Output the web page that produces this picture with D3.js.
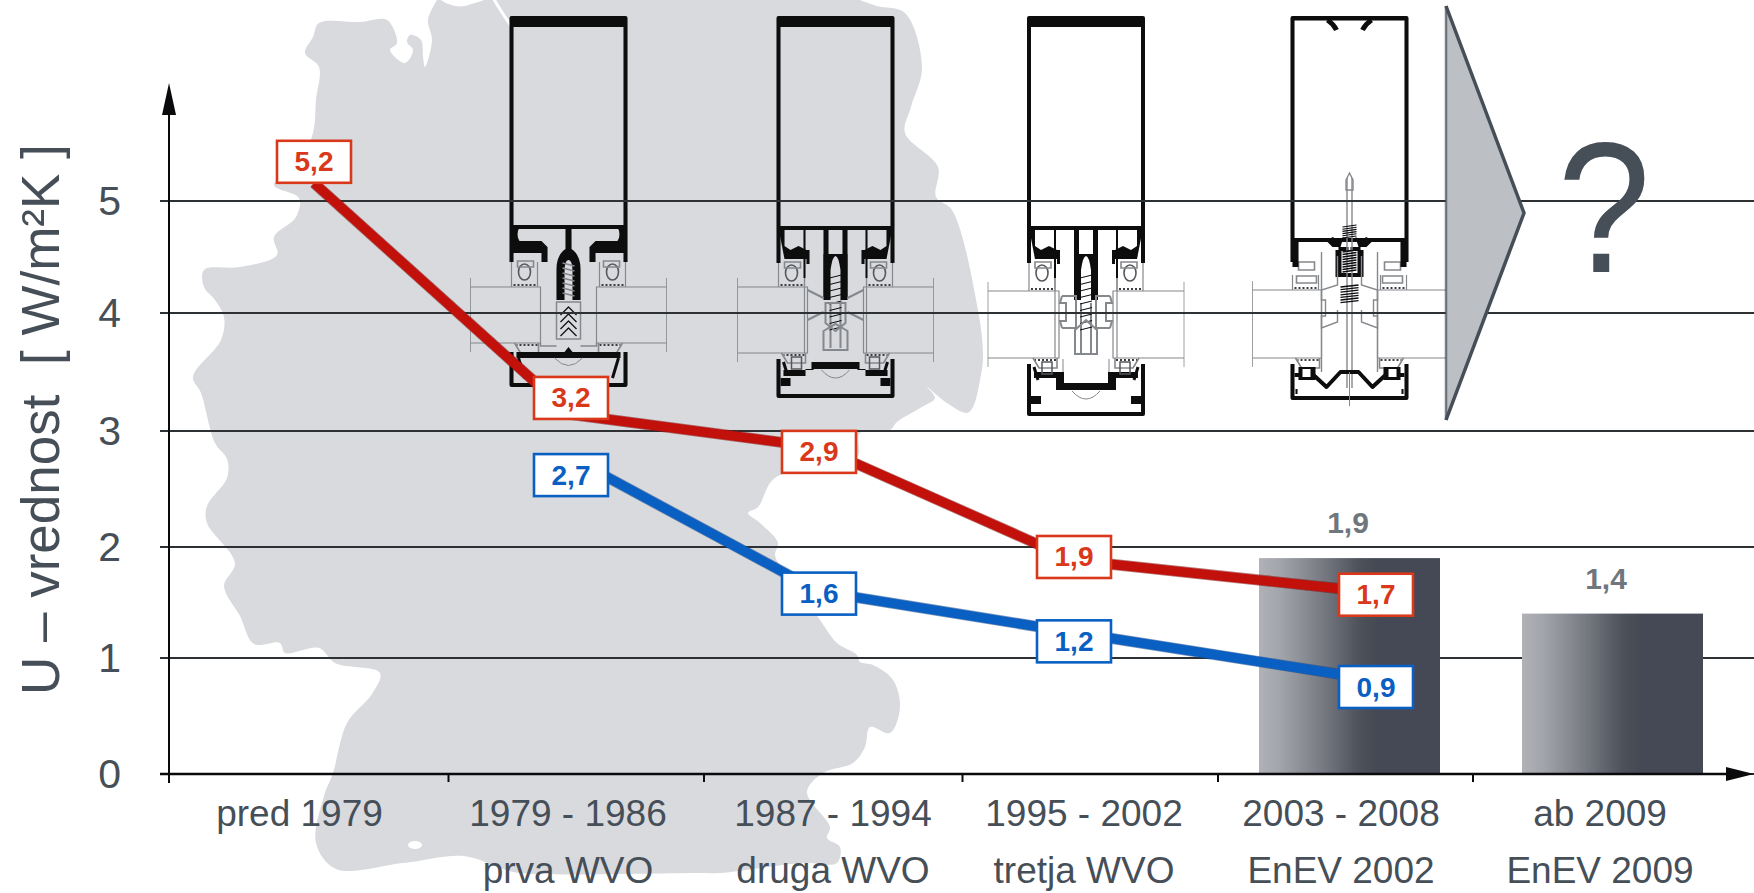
<!DOCTYPE html>
<html><head><meta charset="utf-8">
<script src="https://cdn.jsdelivr.net/npm/d3@7/dist/d3.min.js"></script>
<style>html,body{margin:0;padding:0;background:#fff}svg{display:block}text{font-family:"Liberation Sans",Arial,sans-serif}</style>
</head><body><svg id="c" width="1754" height="893"></svg>
<script>
// ---- data ----
const categories = ["pred 1979","1979 - 1986","1987 - 1994","1995 - 2002","2003 - 2008","ab 2009"];
const subLabels  = ["","prva WVO","druga WVO","tretja WVO","EnEV 2002","EnEV 2009"];
const yTicks = [0,1,2,3,4,5];
const redLabels  = [5.2,3.2,2.9,1.9,1.7];
const redLine    = [5.16,3.14,2.86,1.88,1.59];   // level of the drawn line on the y axis
const redBoxes   = [5.35,3.28,2.82,1.91,1.57];   // level of the drawn label box on the y axis
const blueLabels = [2.7,1.6,1.2,0.9];
const blueLine   = [2.77,1.60,1.23,0.81];
const blueBoxes  = [2.62,1.58,1.15,0.75];
const barCats    = ["2003 - 2008","ab 2009"];
const barValues  = [1.9,1.4];

// ---- scales ----
const svg = d3.select("#c");
const y = d3.scaleLinear().domain(yTicks).range([774,658,547,431,313,201]);
const xLabel = d3.scaleOrdinal().domain(categories).range([299.5,568,833,1084,1341,1600]);
const xBar   = d3.scaleOrdinal().domain(barCats).range([1259,1522]);
const xBarText = d3.scaleOrdinal().domain(barCats).range([1348,1606]);
const xPoint = d3.scaleOrdinal().domain(categories).range([314,571,819,1074,1376,1600]);
const xTick  = d3.scaleOrdinal().domain(categories.slice(1)).range([448.5,704,962.5,1218,1473]);
const barW = 181;
const ink = "#464f58", red = "#c2100a", redB = "#d9391a", blue = "#0a60c2";
const fmt = v => d3.format(".1f")(v).replace(".", ",");

// ---- defs ----
const defs = svg.append("defs");
const grad = defs.append("linearGradient").attr("id","barG");
[[0,"#b0b2b8"],[.12,"#a2a4ab"],[.35,"#777a82"],[.55,"#4e525b"],[.65,"#454a54"],[1,"#454a54"]]
  .forEach(s=>grad.append("stop").attr("offset",s[0]).attr("stop-color",s[1]));
defs.append("filter").attr("id","soft").append("feGaussianBlur").attr("stdDeviation",0.6);

// ---- background map ----
const mapPts = [[437,0],[428,20],[432,40],[425,67],[423,57],[421,40],[410,35],[407,42],[413,50],[405,63],[390,50],[397,43],[387,20],[360,22],[319,23],[313,37],[305,53],[319,67],[316,100],[313,133],[300,160],[274,185],[299,198],[296,217],[274,237],[277,255],[240,267],[204,270],[204,287],[215,300],[224,317],[221,340],[193,377],[201,393],[215,443],[227,459],[227,478],[207,506],[207,523],[235,563],[224,586],[240,616],[254,644],[280,643],[285,653],[319,648],[335,663],[380,673],[372,694],[347,723],[333,773],[324,796],[316,843],[336,869],[403,863],[464,856],[503,869],[520,873],[699,873],[720,873],[803,863],[837,863],[840,847],[827,838],[830,827],[807,792],[823,773],[853,763],[865,747],[870,727],[890,733],[900,707],[893,680],[873,665],[860,662],[857,655],[837,643],[820,620],[800,590],[783,570],[775,555],[778,543],[760,523],[748,513],[758,507],[770,483],[780,475],[857,458],[860,433],[890,430],[897,422],[920,408],[935,398],[927,387],[947,403],[967,413],[973,407],[980,380],[983,357],[978,310],[952,210],[936,197],[938,167],[905,133],[911,107],[922,67],[905,13],[877,6],[860,0]];
svg.append("path").attr("d", d3.line().curve(d3.curveCatmullRom.alpha(.5))(mapPts)+"Z").attr("fill","#d8dade").attr("filter","url(#soft)");
svg.append("path").attr("d","M437,-4 L447,2 Q460,8 473,2 L492,-4 Q500,10 511,26").attr("fill","none").attr("stroke","#fff").attr("stroke-width",3);
svg.append("path").attr("d","M437,-3 L447,2 Q460,8 473,2 L490,-3Z").attr("fill","#fff");
svg.append("ellipse").attr("cx",415).attr("cy",845).attr("rx",7).attr("ry",4).attr("fill","#fff");

// ---- window-frame section drawings (decorative pictograms) ----
function mullion(o){
  const g = svg.append("g").attr("transform",`translate(${o.cx},0)`).attr("filter","url(#soft)");
  const B = o.bar, W = o.w;
  const blk = (d,sw=4)=>g.append("path").attr("d",d).attr("fill","none").attr("stroke","#0a0a0c").attr("stroke-width",sw).attr("stroke-linejoin","round");
  const fil = d=>g.append("path").attr("d",d).attr("fill","#0a0a0c");
  const thin= (d,sw=1.2)=>g.append("path").attr("d",d).attr("fill","none").attr("stroke","#85888c").attr("stroke-width",sw);
  const teeth = d=>g.append("path").attr("d",d).attr("fill","none").attr("stroke","#3c3e42").attr("stroke-width",2).attr("stroke-dasharray","2 2");
  // hollow box
  blk(`M${-W},${o.wallEnd||B+35}V18H${W}V${o.wallEnd||B+35}`);
  blk(`M${-W},${B}H${W}`,4);
  if(o.topBand) fil(`M${-W},17H${W}V27H${-W}Z`);
  else { blk(`M${-W},19H${W}`,3); blk(`M-22,20Q-16,24 -13,30M22,20Q16,24 13,30`,5); }
  // glass panes
  thin(`M${-o.gO},${o.gT}H${-o.gI}V${o.gB}H${-o.gO}M${o.gO},${o.gT}H${o.gI}V${o.gB}H${o.gO}`);
  thin(`M${-o.gO},${o.gT-9}V${o.gB+9}M${o.gO},${o.gT-9}V${o.gB+9}`,.8);
  // inner gaskets with oval holes
  [-1,1].forEach(s=>{
    thin(`M${s*W},${B+35}V${o.gT}M${s*(W-26)},${B+35}V${o.gT}`);
    if(o.type!==4){
      g.append("ellipse").attr("cx",s*(W-13)).attr("cy",B+45).attr("rx",6).attr("ry",8).attr("fill","none").attr("stroke","#55585c").attr("stroke-width",1.6);
      thin(`M${s*(W-22)},${B+34}h${s*16}v6h${-s*16}z`,1.6);
    } else {
      thin(`M${s*(W-22)},${B+22}h${s*16}v8h${-s*16}z`,1.6);
      thin(`M${s*(W-24)},${B+36}h${s*20}v7h${-s*20}z`,1.6);
    }
    teeth(`M${s*(W-24)},${o.gT-2}H${s*(W-2)}`);
    teeth(`M${s*(o.gI+3)},${o.gB+2}H${s*(o.gI+24)}`);
    thin(`M${s*(o.gI+26)},${o.gB}L${s*(o.gI+20)},${o.gB+10}H${s*(o.gI+2)}V${o.gB}`,1.6);
  });
  if(o.type===1){
    fil(`M${-W},${B}h8q-4,8 0,14h22l6,6v15h-6v-9h-30z`);
    fil(`M${W},${B}h-8q4,8 0,14h-22l-6,6v15h6v-9h30z`);
    fil(`M-3,${B}H3V${B+22}Q12,${B+28} 12,${B+42}V${B+73}H4V${B+45}Q4,${B+33} 0,${B+33}Q-4,${B+33} -4,${B+45}V${B+73}H-12V${B+42}Q-12,${B+28} -3,${B+22}Z`);
    thin(`M-12,${B+75}H12V${B+112}H-12Z`,1.5);
    for(let k=0;k<7;k++) thin(`M-6,${B+36+k*5}L6,${B+39+k*5}`,1.6);
    for(let k=0;k<4;k++) blk(`M-8,${B+88+k*7}L0,${B+80+k*7}L8,${B+88+k*7}`,1.2);
    thin(`M-28,${o.gB}V${o.gB+3}H-12M28,${o.gB}V${o.gB+3}H12`,1.5);
    fil(`M-52,${o.gB+9}H-4L0,${o.gB+4}L4,${o.gB+9}H52V${o.gB+15}H-52Z`);
    blk(`M${-W},${o.gB+9}V${o.cap}H${W}V${o.gB+9}`);
    blk(`M-50,${o.gB+15}L-44,${o.gB+35}M50,${o.gB+15}L44,${o.gB+35}`,3);
    thin(`M-14,${o.gB+15}Q0,${o.gB+30} 14,${o.gB+15}`,1);
  }
  if(o.type===2||o.type===3){
    [-1,1].forEach(s=>{
      fil(`M${s*W},${B}h${-s*6}v${18}l${-s*6},4l${-s*8},-4l${-s*8},4h${-s*3}v14h${s*3}v-5h${s*22}z`);
      blk(`M${s*31},${B}V${B+50}`,2);
      thin(`M${s*31},${B+50}V${o.gB}`);
    });
    blk(`M-9.5,${B}V${B+70}M9.5,${B}V${B+70}`,5);
    fil(`M-12,${B+26}H12V${B+72}H5V${B+42}Q3,${B+28} 0,${B+28}Q-3,${B+28} -5,${B+42}V${B+72}H-12Z`);
    thin(`M-5,${B+75}V${o.gB-5}M5,${B+75}V${o.gB-5}`,2);
    for(let k=0;k<9;k++) blk(`M-6,${B+50+k*6.5}L6,${B+47+k*6.5}`,1);
    if(o.type===2){
      thin(`M-28,${B+62}L-12,${B+70}M28,${B+62}L12,${B+70}M-28,${B+92}L-12,${B+84}M28,${B+92}L12,${B+84}`,2);
      thin(`M-10,${B+75}H10V${B+95}L0,${B+103}L-10,${B+95}Z`,2);
      thin(`M-12,${B+103}L0,${B+96}L12,${B+103}V${B+122}H-12Z`,2);
    } else {
      thin(`M-24,${B+68}H-10V${B+100}H-24M24,${B+68}H10V${B+100}H24M-24,${B+68}L-26,${B+75}H-20V${B+93}H-26L-24,${B+100}M24,${B+68}L26,${B+75}H20V${B+93}H26L24,${B+100}`,2);
      thin(`M-11,${B+102}L0,${B+92}L11,${B+102}V${B+126}H-11Z`,2);
      thin(`M-23,${B+131}V${o.plate}M23,${B+131}V${o.plate}`,1);
    }
    fil(`M-24,${o.plate}H24V${o.plate+7}H-24Z`);
    [-1,1].forEach(s=>{
      const sy = o.plate+o.side;
      fil(`M${s*22},${o.plate}V${sy}H${s*52}V${sy+6}H${s*30}V${o.plate+7}H${s*22}Z`);
      g.append("rect").attr("x",s>0?34:-44).attr("y",o.gB+4).attr("width",10).attr("height",12).attr("fill","none").attr("stroke","#55585c").attr("stroke-width",1.5);
      blk(`M${s*52},${o.gB+9}L${s*48},${o.gB+22}`,3);
      fil(`M${s*(W-2)},${o.cap-18}h${-s*10}v8h${s*10}z`);
    });
    blk(`M${-W},${o.gB+6}V${o.cap}H${W}V${o.gB+6}`);
    thin(`M-14,${o.plate+8}Q0,${o.plate+24} 14,${o.plate+8}`,1);
  }
  if(o.type===4){
    fil(`M${-W},${B}h36l4,-3l6,3l5,-3l-3,10h8v5h-10v-5h-6l-6,-6h-28v26h-6z`);
    fil(`M${W},${B}h-36l-4,-3l-6,3l-5,-3l3,10h-8v5h10v-5h6l6,-6h28v26h6z`);
    fil(`M-14,${B+10}H14V${B+37}H-14Z`);
    g.append("rect").attr("x",-8).attr("y",B+11).attr("width",16).attr("height",22).attr("fill","#fff");
    thin(`M-2.5,${B-62}V${o.gB+30}M2.5,${B-62}V${o.gB+30}`,1.4);
    thin(`M-3.5,${B-60}L0,${B-67}L3.5,${B-60}V${B-50}H-3.5Z`,1.4);
    for(let k=0;k<9;k++) blk(`M-7,${B+12+k*2.5}L7,${B+10+k*2.5}`,1.3);
    for(let k=0;k<6;k++) blk(`M-7,${B-13+k*2.2}L7,${B-15+k*2.2}`,1.1);
    for(let k=0;k<7;k++) blk(`M-9,${B+47+k*2.6}L9,${B+45+k*2.6}`,1.3);
    thin(`M-28,${B+12}V${o.gB+14}M28,${B+12}V${o.gB+14}`,1.4);
    thin(`M-12,${B+16}V${B+45}L-28,${B+50}V${B+60}H-24V${B+76}H-28V${B+88}L-12,${B+82}V${B+70}M12,${B+16}V${B+45}L28,${B+50}V${B+60}H24V${B+76}H28V${B+88}L12,${B+82}V${B+70}`,1.4);
    blk(`M-55,${o.gB+17}H-36L-23,${o.gB+29}L-9,${o.gB+14}H9L23,${o.gB+29}L36,${o.gB+17}H55`,4);
    [-1,1].forEach(s=>{ fil(`M${s*51},${o.gB+9}h${-s*17}v13h${s*17}z`);
      g.append("rect").attr("x",s>0?39:-47).attr("y",o.gB+11).attr("width",8).attr("height",8).attr("fill","#fff"); });
    blk(`M${-W},${o.gB+6}V${o.cap}H${W}V${o.gB+6}`);
    blk(`M${-W+4},${o.cap-9}V${o.cap-4}M${W-4},${o.cap-9}V${o.cap-4}`,2);
    thin(`M0,${o.gB+14}V${o.cap+8}`,1);
  }
}
mullion({cx:568.5,w:57,bar:227,type:1,topBand:true,gT:287,gB:343,gO:98,gI:28,cap:385});
mullion({cx:835.5,w:57,bar:228,type:2,topBand:true,gT:287,gB:353,gO:98,gI:28,cap:396,plate:362,side:8});
mullion({cx:1086,w:57,bar:228,type:3,topBand:true,gT:291,gB:358,gO:98,gI:27,cap:414,plate:383,side:-11});
mullion({cx:1349.5,w:57,bar:240,type:4,topBand:false,gT:290,gB:358,gO:97,gI:28,cap:398,wallEnd:262});

// ---- grid lines ----
svg.append("g").selectAll("line").data(yTicks).join("line")
  .attr("x1",160).attr("x2",1754).attr("y1",d=>y(d)).attr("y2",d=>y(d))
  .attr("stroke","#2e3134").attr("stroke-width",2.2);

// ---- big arrow and question mark ----
svg.append("path").attr("d","M1446,6 L1524,213 L1446,420 Z").attr("fill","#bcc0c4");
svg.append("path").attr("d","M1446,6 L1524,213 L1446,420").attr("fill","none").attr("stroke",ink).attr("stroke-width",3.5);
svg.append("path").attr("d","M1446,6 V420").attr("fill","none").attr("stroke",ink).attr("stroke-width",2.5).attr("stroke-opacity",.7);
svg.append("text").attr("transform","translate(1604,272) scale(.95,1.05)").attr("text-anchor","middle").attr("font-size",176).attr("fill",ink).text("?");

// ---- bars ----
svg.append("g").selectAll("rect").data(barValues).join("rect")
  .attr("x",(d,i)=>xBar(barCats[i])).attr("width",barW)
  .attr("y",d=>y(d)).attr("height",d=>y(0)-y(d)).attr("fill","url(#barG)").attr("filter","url(#soft)");
svg.append("g").selectAll("text").data(barValues).join("text")
  .attr("x",(d,i)=>xBarText(barCats[i])).attr("y",d=>y(d)-25).attr("text-anchor","middle")
  .attr("font-size",30).attr("font-weight","bold").attr("fill","#6f767d").text(fmt);

// ---- lines ----
const line = d3.line().x(d=>xPoint(d[0])).y(d=>y(d[1]));
function series(levels,boxes,labels,cats,core,border,dark){
  const pts = levels.map((v,i)=>[cats[i],v]);
  svg.append("path").attr("d",line(pts)).attr("fill","none").attr("stroke",dark).attr("stroke-width",11).attr("stroke-opacity",.55).attr("filter","url(#soft)");
  svg.append("path").attr("d",line(pts)).attr("fill","none").attr("stroke",core).attr("stroke-width",9.5);
  const b = svg.append("g").selectAll("g").data(labels).join("g")
    .attr("transform",(d,i)=>`translate(${xPoint(cats[i])},${y(boxes[i])})`);
  b.append("rect").attr("x",-37).attr("y",-21).attr("width",74).attr("height",42)
    .attr("fill","#fff").attr("stroke",border).attr("stroke-width",2.6);
  b.append("text").attr("text-anchor","middle").attr("y",9.5).attr("font-size",28).attr("font-weight","bold")
    .attr("fill",border).text(fmt);
}
series(redLine,redBoxes,redLabels,categories.slice(0,5),red,redB,"#7a1010");
series(blueLine,blueBoxes,blueLabels,categories.slice(1,5),blue,blue,"#123f80");

// ---- axes ----
const yAxis = svg.append("g").attr("transform","translate(169,0)")
  .call(d3.axisLeft(y).tickValues(yTicks).tickFormat(d3.format("d")).tickSize(0).tickPadding(48));
yAxis.select(".domain").remove();
yAxis.selectAll("text").attr("font-size",41).attr("fill",ink).attr("font-family",'"Liberation Sans",Arial,sans-serif');
svg.append("line").attr("x1",169).attr("x2",169).attr("y1",112).attr("y2",783).attr("stroke","#0a0a0c").attr("stroke-width",2);
svg.append("path").attr("d","M169,83 L176,115 L162,115 Z").attr("fill","#0a0a0c");
svg.append("line").attr("x1",160).attr("x2",1730).attr("y1",774).attr("y2",774).attr("stroke","#0a0a0c").attr("stroke-width",2.6);
svg.append("path").attr("d","M1754,774 L1726,767 L1726,781 Z").attr("fill","#0a0a0c");
svg.append("g").selectAll("line").data(xTick.domain()).join("line")
  .attr("x1",d=>xTick(d)).attr("x2",d=>xTick(d)).attr("y1",774).attr("y2",782).attr("stroke","#0a0a0c").attr("stroke-width",2);

svg.append("g").selectAll("text").data(categories).join("text")
  .attr("x",d=>xLabel(d)).attr("y",826).attr("text-anchor","middle").attr("font-size",37).attr("fill",ink).text(d=>d);
svg.append("g").selectAll("text").data(subLabels).join("text")
  .attr("x",(d,i)=>xLabel(categories[i])).attr("y",883).attr("text-anchor","middle").attr("font-size",37).attr("fill",ink).text(d=>d);

svg.append("text").attr("transform","translate(59,695) rotate(-90)").attr("font-size",53).attr("fill",ink)
  .style("white-space","pre").text("U – vrednost  [ W/m²K ]");
</script></body></html>
